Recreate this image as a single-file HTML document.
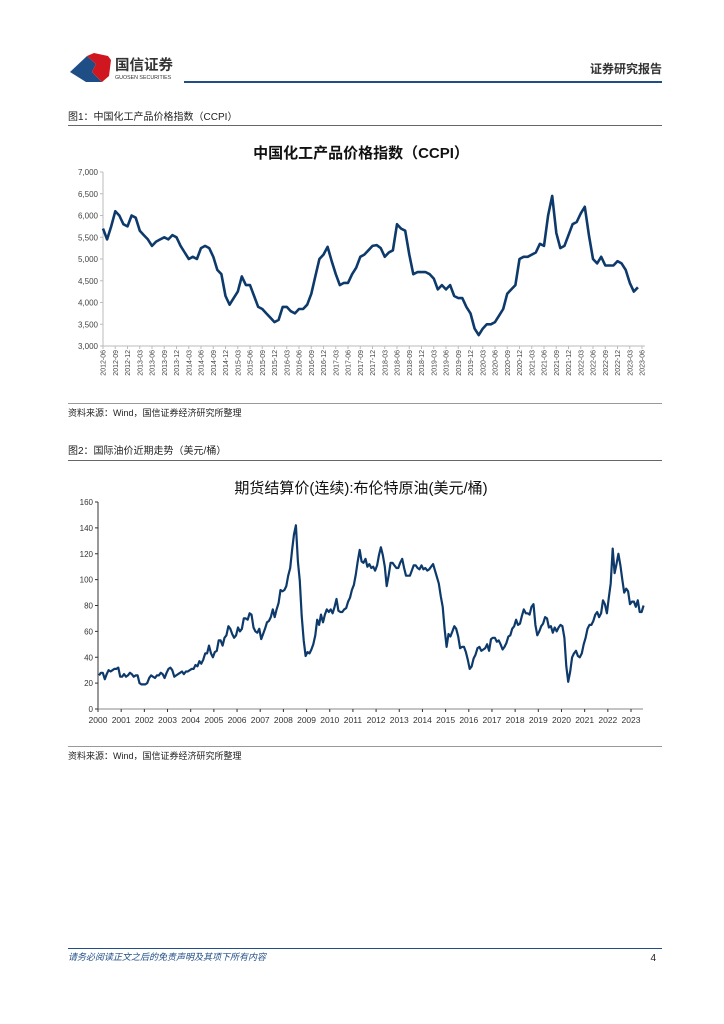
<!DOCTYPE html>
<html><head><meta charset="utf-8"><style>
html,body{margin:0;padding:0;background:#fff;}
svg{display:block;font-family:"Liberation Sans","Noto Sans CJK SC",sans-serif;}
</style></head><body>
<svg id="page" width="724" height="1024" viewBox="0 0 724 1024">
<g>
  <g>
    <path d="M70,72 L87,56 L96,64 L92,72 L102,82 L86,82 Z" fill="#1f4e86"/>
    <path d="M87,56 L94,53 L108,56 L111,60 L109,76 L102,82 L92,72 L96,64 Z" fill="#d0161f"/>
    <text x="115" y="70" font-size="14.5" font-weight="bold" fill="#333">国信证券</text>
    <text x="115" y="79" font-size="5.3" fill="#333">GUOSEN SECURITIES</text>
  </g>
  <text x="662" y="73" font-size="12" font-weight="bold" fill="#333" text-anchor="end">证券研究报告</text>
  <rect x="184" y="81" width="478" height="2" fill="#1f4e86"/>
</g>
<text x="68" y="120" font-size="10" fill="#222">图1：中国化工产品价格指数（CCPI）</text>
<rect x="68" y="125" width="594" height="1" fill="#666"/>
<text x="361" y="158" font-size="15" font-weight="bold" fill="#111" text-anchor="middle">中国化工产品价格指数（CCPI）</text>
<g id="chart1"></g>
<rect x="68" y="403" width="594" height="1" fill="#999"/>
<text x="68" y="416" font-size="9" fill="#222">资料来源：Wind，国信证券经济研究所整理</text>
<text x="68" y="454" font-size="10" fill="#222">图2：国际油价近期走势（美元/桶）</text>
<rect x="68" y="460" width="594" height="1" fill="#666"/>
<text x="361" y="493" font-size="15" fill="#111" text-anchor="middle">期货结算价(连续):布伦特原油(美元/桶)</text>
<g id="chart2"></g>
<rect x="68" y="746" width="594" height="1" fill="#999"/>
<text x="68" y="759" font-size="9" fill="#222">资料来源：Wind，国信证券经济研究所整理</text>
<rect x="68" y="948" width="594" height="1" fill="#1f4e86"/>
<text x="68" y="960" font-size="9" font-style="italic" fill="#1f4e86">请务必阅读正文之后的免责声明及其项下所有内容</text>
<text x="656" y="961" font-size="10" fill="#222" text-anchor="end">4</text>
</svg>
<script>
const ccpiStart = [2012, 6];
const ccpiValues = [5700,5450,5750,6100,6000,5800,5750,6000,5950,5650,5550,5450,5300,5400,5450,5500,5450,5550,5500,5300,5150,5000,5050,5000,5250,5300,5250,5050,4750,4650,4150,3950,4100,4250,4600,4400,4400,4150,3900,3850,3750,3650,3550,3600,3900,3900,3800,3750,3850,3850,3950,4200,4600,5000,5100,5280,4950,4650,4400,4450,4450,4650,4800,5050,5100,5200,5300,5320,5250,5050,5150,5200,5800,5700,5650,5100,4650,4700,4700,4700,4650,4550,4300,4400,4300,4400,4150,4100,4100,3900,3750,3400,3250,3400,3500,3500,3550,3700,3850,4200,4300,4400,5000,5050,5050,5100,5150,5350,5300,6000,6450,5600,5250,5300,5550,5800,5850,6050,6200,5550,5000,4900,5050,4850,4850,4850,4950,4900,4750,4450,4250,4350];
const ccpiTicks = [3000,3500,4000,4500,5000,5500,6000,6500,7000];
const ccpiTickLabels = ["3,000","3,500","4,000","4,500","5,000","5,500","6,000","6,500","7,000"];

const brentStartYear = 2000;
const brentValues = [26,28,28,23,27,30,29,30,31,31,32,25, 25,27,25,26,28,27,25,26,26,20,19,19, 19,20,24,26,25,24,26,26,28,27,24,28, 31,32,30,25,26,27,28,29,27,29,29,30, 31,31,34,33,37,35,38,43,43,49,43,40, 44,45,53,53,49,55,57,64,62,58,55,57, 63,60,62,70,70,69,74,73,63,60,59,62, 54,58,62,67,68,71,77,71,77,82,92,91, 92,95,103,109,123,135,142,114,99,72,53,41, 44,43,46,50,57,69,65,73,67,73,77,75, 77,74,79,85,76,75,75,77,78,83,86,92, 96,104,114,123,114,113,116,110,112,109,110,107, 111,119,125,119,110,95,103,113,113,111,109,109, 113,116,109,103,103,103,107,111,111,109,108,111, 108,109,107,108,110,112,107,102,97,87,79,62, 48,58,56,60,64,62,56,47,48,48,44,38, 31,33,39,42,47,48,45,46,47,50,45,54, 55,55,52,53,50,46,48,51,56,57,62,64, 69,65,66,72,77,74,74,73,79,81,65,57, 60,64,66,71,70,63,64,59,63,60,63,65, 64,55,33,21,29,40,43,45,41,40,43,50, 55,62,65,65,68,73,75,71,74,84,81,74, 86,97,124,105,112,120,111,100,90,93,91,81, 83,83,79,84,75,75,80];
const brentTicks = [0,20,40,60,80,100,120,140,160];
const brentYears = [2000,2001,2002,2003,2004,2005,2006,2007,2008,2009,2010,2011,2012,2013,2014,2015,2016,2017,2018,2019,2020,2021,2022,2023];

const NS = "http://www.w3.org/2000/svg";
function mk(parent, tag, attrs, txt){const e=document.createElementNS(NS,tag);for(const k in attrs)e.setAttribute(k,attrs[k]);if(txt!==undefined)e.textContent=txt;parent.appendChild(e);return e;}

// Chart 1
(function(){
  const g=document.getElementById('chart1');
  const x0=103,x1=645,yTop=172,yBot=346;
  const mPx=(642-103)/132;
  const xS=i=>x0+i*mPx;
  const yS=v=>yBot-(v-3000)/4000*(yBot-yTop);
  const ax=mk(g,'line',{x1:x0,y1:yTop,x2:x0,y2:yBot,stroke:'#bbb','stroke-width':1});
  
  
  const bx=mk(g,'line',{x1:x0,y1:yBot,x2:x1,y2:yBot,stroke:'#bbb','stroke-width':1});
  
  
  ccpiTicks.forEach((t,i)=>{
    const y=yS(t);
    mk(g,'line',{x1:x0-3,y1:y,x2:x0,y2:y,stroke:'#bbb'});
    const lb=mk(g,'text',{x:x0-5,y:y+3,'font-size':8,fill:'#444','text-anchor':'end'},ccpiTickLabels[i]);
    
    
  });
  for(let q=0;q<=44;q++){
    const mi=q*3; const yr=2012+Math.floor((6+mi-1)/12); const mo=((6+mi-1)%12)+1;
    const x=xS(mi);
    mk(g,'line',{x1:x,y1:yBot,x2:x,y2:yBot+3,stroke:'#bbb'});
    const lbl=yr+'-'+(mo<10?'0':'')+mo;
    const t=mk(g,'text',{x:0,y:0,'font-size':7,fill:'#444','text-anchor':'end',transform:`translate(${x+2.5},${yBot+4}) rotate(-90)`},lbl);
    
    
  }
  const d=ccpiValues.map((v,i)=>(i?'L':'M')+xS(i).toFixed(1)+','+yS(v).toFixed(1)).join('');
  const p=mk(g,'path',{d:d,fill:'none',stroke:'#0d3a6b','stroke-width':2.6,'stroke-linejoin':'round'});
  
  
})();

// Chart 2
(function(){
  const g=document.getElementById('chart2');
  const x0=98,x1=643,yTop=502,yBot=709;
  const yrPx=(631-98)/23;
  const xS=m=>x0+m/12*yrPx;
  const yS=v=>yBot-v/160*(yBot-yTop);
  const ax=mk(g,'line',{x1:x0,y1:yTop,x2:x0,y2:yBot,stroke:'#333','stroke-width':1});
  
  
  const bx=mk(g,'line',{x1:x0,y1:yBot,x2:x1,y2:yBot,stroke:'#888','stroke-width':1});
  
  
  brentTicks.forEach(t=>{
    const y=yS(t);
    mk(g,'line',{x1:x0-3,y1:y,x2:x0,y2:y,stroke:'#333'});
    const lb=mk(g,'text',{x:x0-5,y:y+3,'font-size':8,fill:'#333','text-anchor':'end'},String(t));
    
    
  });
  brentYears.forEach(yr=>{
    const x=xS((yr-brentStartYear)*12);
    mk(g,'line',{x1:x,y1:yBot,x2:x,y2:yBot+3,stroke:'#333'});
    const t=mk(g,'text',{x:x,y:yBot+14,'font-size':8.5,fill:'#333','text-anchor':'middle'},String(yr));
    
    
  });
  const d=brentValues.map((v,i)=>(i?'L':'M')+xS(i+0.5).toFixed(1)+','+yS(v).toFixed(1)).join('');
  const p=mk(g,'path',{d:d,fill:'none',stroke:'#0d3a6b','stroke-width':2.2,'stroke-linejoin':'round'});
  
  
})();
</script>
</body></html>
